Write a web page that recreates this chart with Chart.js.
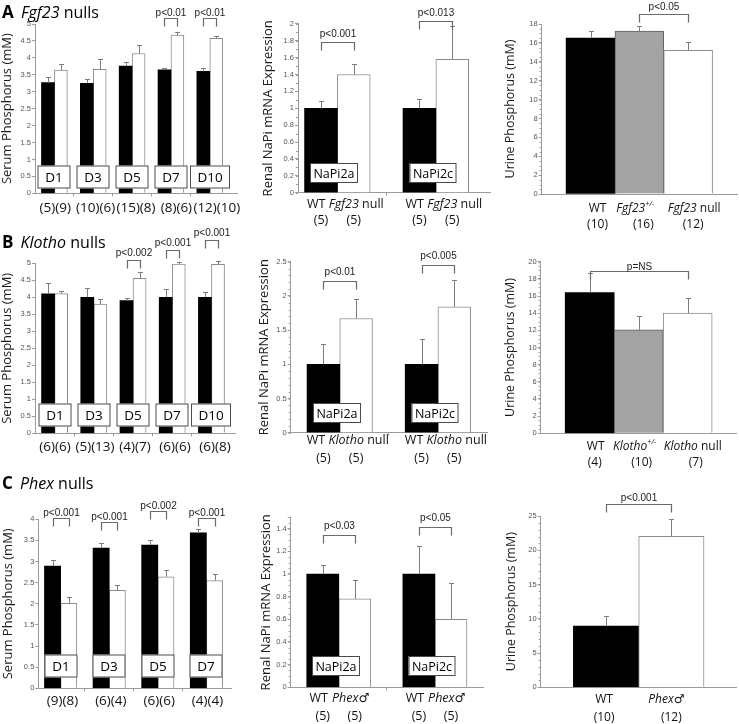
<!DOCTYPE html>
<html>
<head>
<meta charset="utf-8">
<script src="https://cdn.jsdelivr.net/npm/chart.js@4.4.1/dist/chart.umd.min.js"></script>
<style>
body { margin: 0; background: #fff; width: 739px; height: 724px; position: relative; overflow: hidden; font-family: "Open Sans", sans-serif; }
canvas { position: absolute; }
.hd { position: absolute; font-size: 16px; line-height: 16px; color: #000; white-space: nowrap; z-index: 2; }
.hd b { font-weight: 700; font-size: 17px; margin-right: 3px; }
</style>
</head>
<body>
<div class="hd" style="left:2px;top:4px"><b>A</b> <i>Fgf23</i> nulls</div>
<div class="hd" style="left:2px;top:234px"><b>B</b> <i>Klotho</i> nulls</div>
<div class="hd" style="left:2px;top:475px"><b>C</b> <i>Phex</i> nulls</div>
<canvas id="a1"></canvas><canvas id="a2"></canvas><canvas id="a3"></canvas>
<canvas id="b1"></canvas><canvas id="b2"></canvas><canvas id="b3"></canvas>
<canvas id="c1"></canvas><canvas id="c2"></canvas><canvas id="c3"></canvas>
<script>
// ---- datos ----
// A: Fgf23, fosforo serico por dia
const fgfDays = ['D1', 'D3', 'D5', 'D7', 'D10'];
const fgfSerumN = ['(5)(9)', '(10)(6)', '(15)(8)', '(8)(6)', '(12)(10)'];
const fgfSerumWt = [3.27, 3.25, 3.76, 3.65, 3.60];
const fgfSerumWtSe = [0.16, 0.13, 0.11, 0.05, 0.09];
const fgfSerumNull = [3.64, 3.66, 4.13, 4.67, 4.58];
const fgfSerumNullSe = [0.17, 0.31, 0.26, 0.08, 0.07];
const fgfSerumP = ['', '', '', 'p<0.01', 'p<0.01'];

// B: Klotho
const klDays = ['D1', 'D3', 'D5', 'D7', 'D10'];
const klSerumN = ['(6)(6)', '(5)(13)', '(4)(7)', '(6)(6)', '(6)(8)'];
const klSerumWt = [4.10, 4.00, 3.90, 4.00, 4.00];
const klSerumWtSe = [0.33, 0.26, 0.09, 0.23, 0.15];
const klSerumNull = [4.11, 3.80, 4.56, 4.98, 4.97];
const klSerumNullSe = [0.09, 0.14, 0.17, 0.07, 0.09];
const klSerumP = ['', '', 'p<0.002', 'p<0.001', 'p<0.001'];

// C: Phex
const phDays = ['D1', 'D3', 'D5', 'D7'];
const phSerumN = ['(9)(8)', '(6)(4)', '(6)(6)', '(4)(4)'];
const phSerumWt = [2.89, 3.32, 3.39, 3.68];
const phSerumWtSe = [0.14, 0.11, 0.11, 0.09];
const phSerumMut = [2.01, 2.32, 2.64, 2.55];
const phSerumMutSe = [0.14, 0.12, 0.15, 0.16];
const phSerumP = ['p<0.001', 'p<0.001', 'p<0.002', 'p<0.001'];

// expresion renal NaPi
const napiGenes = ['NaPi2a', 'NaPi2c'];
const fgfNapiGroups = ['WT', 'Fgf23 null'];
const fgfNapiN = ['(5)', '(5)'];
const fgfNapiWt = [1.00, 1.00];
const fgfNapiWtSe = [0.09, 0.11];
const fgfNapiNull = [1.40, 1.58];
const fgfNapiNullSe = [0.12, 0.39];
const fgfNapiP = ['p<0.001', 'p<0.013'];

const klNapiGroups = ['WT', 'Klotho null'];
const klNapiN = ['(5)', '(5)'];
const klNapiWt = [1.00, 1.00];
const klNapiWtSe = [0.29, 0.37];
const klNapiNull = [1.67, 1.84];
const klNapiNullSe = [0.29, 0.39];
const klNapiP = ['p<0.01', 'p<0.005'];

const phNapiGroups = ['WT', 'Phex\u2642'];
const phNapiN = ['(5)', '(5)'];
const phNapiWt = [1.00, 1.00];
const phNapiWtSe = [0.08, 0.245];
const phNapiMut = [0.78, 0.60];
const phNapiMutSe = [0.17, 0.32];
const phNapiP = ['p<0.03', 'p<0.05'];

// fosforo urinario
const fgfUrineGroups = ['WT', 'Fgf23+/-', 'Fgf23 null'];
const fgfUrineN = ['(10)', '(16)', '(12)'];
const fgfUrine = [16.50, 17.25, 15.20];
const fgfUrineSe = [0.75, 0.50, 0.85];
const fgfUrineP = 'p<0.05';

const klUrineGroups = ['WT', 'Klotho+/-', 'Klotho null'];
const klUrineN = ['(4)', '(10)', '(7)'];
const klUrine = [16.40, 12.05, 14.00];
const klUrineSe = [2.30, 1.65, 1.75];
const klUrineP = 'p=NS';

const phUrineGroups = ['WT', 'Phex\u2642'];
const phUrineN = ['(10)', '(12)'];
const phUrine = [8.93, 22.05];
const phUrineSe = [1.45, 2.45];
const phUrineP = 'p<0.001';

// ---- estilo ----
const AXIS = '#9b9b9b';
const FONT = '"Open Sans", "DejaVu Sans", sans-serif';
const BLACK = { color: '#000', border: '#000', bw: 0 };
const GREY = { color: '#a3a3a3', border: '#5f5f5f', bw: 1 };
const WHITE = { color: '#fff', border: '#8c8c8c', bw: 1 };

// texto con cursiva para los genes y superindice para +/-
function rich(text) {
    const parts = [];
    const re = /(Fgf23|Klotho|Phex)|(\+\/-)/g;
    let last = 0, m;
    while ((m = re.exec(text))) {
        if (m.index > last) parts.push({ t: text.slice(last, m.index) });
        if (m[1]) parts.push({ t: m[1], it: true });
        else parts.push({ t: m[2], sup: true, it: true });
        last = re.lastIndex;
    }
    if (last < text.length) parts.push({ t: text.slice(last) });
    return parts;
}
function fontFor(p, size) {
    const s = p.sup ? size * 0.62 : size;
    return (p.it ? 'italic ' : '') + s + 'px ' + FONT;
}
function drawRich(ctx, text, cx, cy, size) {
    const parts = rich(text);
    let w = 0;
    parts.forEach(p => { ctx.font = fontFor(p, size); p.w = ctx.measureText(p.t).width; w += p.w; });
    let x = cx - w / 2;
    ctx.textAlign = 'left';
    ctx.textBaseline = 'middle';
    parts.forEach(p => {
        ctx.font = fontFor(p, size);
        ctx.fillText(p.t, x, p.sup ? cy - size * 0.4 : cy);
        x += p.w;
    });
}

// plugin: barras de error, corchetes de p, cajas de etiqueta y textos del eje x
function decoPlugin(cfg) {
    return {
        id: 'deco',
        afterDatasetsDraw(chart) {
            const ctx = chart.ctx, xS = chart.scales.x, yS = chart.scales.y;
            ctx.save();
            if (cfg.minor) {
                ctx.strokeStyle = AXIS;
                ctx.lineWidth = 1;
                ctx.beginPath();
                for (let v = cfg.y.min; v <= cfg.y.max + 1e-9; v += cfg.minor) {
                    const py = Math.round(yS.getPixelForValue(v)) + 0.5;
                    ctx.moveTo(xS.left - 2, py);
                    ctx.lineTo(xS.left, py);
                }
                ctx.stroke();
            }
            // barras de error
            cfg.bars.forEach((b, di) => {
                const meta = chart.getDatasetMeta(di);
                meta.data.forEach((bar, j) => {
                    const top = Math.round(yS.getPixelForValue(b.y[j] + b.se[j])) + 0.5;
                    const x = Math.round(bar.x) + 0.5;
                    ctx.strokeStyle = '#7d7d7d';
                    ctx.lineWidth = 1;
                    ctx.beginPath();
                    ctx.moveTo(x, bar.y);
                    ctx.lineTo(x, top);
                    ctx.moveTo(x - 2.5, top);
                    ctx.lineTo(x + 2.5, top);
                    ctx.stroke();
                });
            });
            // corchetes
            cfg.brackets.forEach(b => {
                const x1 = Math.round(xS.getPixelForValue(b.x1)) + 0.5;
                const x2 = Math.round(xS.getPixelForValue(b.x2)) + 0.5;
                const y = Math.round(yS.getPixelForValue(b.level)) + 0.5;
                ctx.strokeStyle = '#6a6a6a';
                ctx.lineWidth = 1.2;
                ctx.beginPath();
                ctx.moveTo(x1, y + 8);
                ctx.lineTo(x1, y);
                ctx.lineTo(x2, y);
                ctx.lineTo(x2, y + 8);
                ctx.stroke();
                ctx.fillStyle = '#222';
                ctx.font = '10px "Liberation Sans", Arial, sans-serif';
                ctx.textAlign = 'center';
                ctx.textBaseline = 'alphabetic';
                ctx.fillText(b.text, (x1 + x2) / 2, y - cfg.pGap);
            });
            // cajas
            (cfg.boxes || []).forEach(b => {
                ctx.font = cfg.boxFont + 'px ' + FONT;
                const w = Math.round(ctx.measureText(b.text).width + 2 * cfg.boxPad);
                const h = cfg.boxH;
                const cx = Math.round(xS.getPixelForValue(b.x) + (cfg.boxDx || 0));
                const cy = Math.round(yS.bottom - cfg.boxOff);
                ctx.fillStyle = '#fff';
                ctx.fillRect(cx - w / 2, cy - h / 2, w, h);
                ctx.strokeStyle = '#4a4a4a';
                ctx.lineWidth = 1;
                ctx.strokeRect(cx - w / 2 + 0.5, cy - h / 2 + 0.5, w - 1, h - 1);
                ctx.fillStyle = '#000';
                ctx.textAlign = 'center';
                ctx.textBaseline = 'middle';
                ctx.fillText(b.text, cx, cy + 1);
            });
            // textos bajo el eje
            ctx.fillStyle = '#111';
            cfg.labels.forEach(l => {
                drawRich(ctx, l.text, xS.getPixelForValue(l.x) + (l.dx || 0), yS.bottom + l.dy, l.size);
            });
            ctx.restore();
        }
    };
}

function fmt(v) { return String(+v.toFixed(3)); }

function build(cfg) {
    const cv = document.getElementById(cfg.id);
    const [cx, cy, cw, ch] = cfg.rect;
    const [pl, pt, pr, pb] = cfg.plot;
    cv.style.left = cx + 'px';
    cv.style.top = cy + 'px';
    cv.width = cw;
    cv.height = ch;
    cv.style.width = cw + 'px';
    cv.style.height = ch + 'px';
    const padLeft = cfg.titleX - cx - cfg.titleSize * 1.2 / 2;
    const step = cfg.y.step;
    new Chart(cv, {
        type: 'bar',
        data: {
            datasets: cfg.bars.map(b => ({
                data: b.x.map((x, i) => ({ x: x, y: b.y[i] })),
                backgroundColor: b.color,
                borderColor: b.border,
                borderWidth: b.bw,
                grouped: false,
                barPercentage: 1,
                categoryPercentage: 1
            }))
        },
        options: {
            responsive: false,
            animation: false,
            devicePixelRatio: 1,
            layout: { padding: { left: padLeft, top: pt - cy, right: cx + cw - pr, bottom: 0 } },
            plugins: { legend: { display: false }, tooltip: { enabled: false } },
            scales: {
                x: {
                    type: 'linear',
                    min: cfg.x.min,
                    max: cfg.x.max,
                    offset: false,
                    afterBuildTicks: s => { s.ticks = cfg.x.ticks.map(v => ({ value: v })); },
                    afterFit: s => { s.height = cy + ch - pb; },
                    ticks: { display: false },
                    grid: { offset: false, drawOnChartArea: false, tickLength: 3, color: AXIS, tickColor: cfg.x.tickColor || AXIS },
                    border: { color: AXIS }
                },
                y: {
                    min: cfg.y.min,
                    max: cfg.y.max,
                    afterFit: s => { s.width = pl - cx - padLeft; },
                    ticks: {
                        stepSize: step,
                        font: { size: 7.5, family: 'Liberation Sans' },
                        color: '#555',
                        padding: 1,
                        callback: v => (Math.abs(v / step - Math.round(v / step)) < 1e-6 ? fmt(v) : '')
                    },
                    grid: { drawOnChartArea: false, tickLength: 3, color: AXIS },
                    border: { color: AXIS },
                    title: { display: true, text: cfg.title, font: { size: cfg.titleSize, family: 'Open Sans' }, color: '#1a1a1a', padding: 0 }
                }
            }
        },
        plugins: [decoPlugin(cfg)]
    });
}

// ---- ayudantes de disposicion ----
function pairBars(wt, wtSe, mu, muSe) {
    return [
        Object.assign({ x: wt.map((_, i) => 3 * i + 1), y: wt, se: wtSe }, BLACK),
        Object.assign({ x: mu.map((_, i) => 3 * i + 2), y: mu, se: muSe }, WHITE)
    ];
}
function pairBrackets(p, levels) {
    return p.map((t, i) => t ? { x1: 3 * i + 1, x2: 3 * i + 2, level: levels[i], text: t } : null).filter(Boolean);
}
function serum(id, rect, plot, titleX, yMax, xr, days, n, wt, wtSe, mu, muSe, p, levels, boxOff, labDy, pGap) {
    // los (n) van centrados en franjas iguales del eje
    const slot = (xr[1] - xr[0]) / days.length;
    return {
        id, rect, plot, titleX, title: 'Serum Phosphorus (mM)', titleSize: 13,
        y: { min: 0, max: yMax, step: 0.5 },
        x: { min: xr[0], max: xr[1], ticks: days.slice(1).map((_, i) => 3 * i + 3) },
        bars: pairBars(wt, wtSe, mu, muSe),
        brackets: pairBrackets(p, levels), pGap,
        boxes: days.map((d, i) => ({ x: 3 * i + 1.5, text: d })),
        boxOff, boxH: 23, boxPad: 7.5, boxFont: 13.5,
        labels: n.map((t, i) => ({ x: xr[0] + slot * (i + 0.5), text: t, dy: labDy, size: 13.5 }))
    };
}
function napi(id, rect, plot, titleX, y, xr, groups, n, wt, wtSe, mu, muSe, p, levels, joined, dy1, dy2, pGap, boxOff) {
    let labels = [];
    napiGenes.forEach((g, i) => {
        if (joined) labels.push({ x: 3 * i + 1.5, dx: 8, text: groups.join(' '), dy: dy1, size: 12.5 });
        else groups.forEach((t, k) => labels.push({ x: 3 * i + 1 + k, dx: -4, text: t, dy: dy1, size: 12.5 }));
        n.forEach((t, k) => labels.push({ x: 3 * i + 1 + k, text: t, dy: dy2, size: 12.5 }));
    });
    return {
        id, rect, plot, titleX, title: 'Renal NaPi mRNA Expression', titleSize: 13,
        y, minor: y.minor,
        x: { min: xr[0], max: xr[1], ticks: [3] },
        bars: pairBars(wt, wtSe, mu, muSe),
        brackets: pairBrackets(p, levels), pGap,
        boxes: napiGenes.map((g, i) => ({ x: 3 * i + 1.5, text: g })),
        boxDx: -3, boxOff, boxH: 20, boxPad: 3.5, boxFont: 12.5,
        labels
    };
}
function urine(id, rect, plot, titleX, y, xMax, groups, n, vals, se, fills, p, from, to, level, dy1, dy2, pGap, gdx, ndx) {
    const labels = [];
    groups.forEach((g, i) => {
        labels.push({ x: i + 1, dx: gdx[i], text: g, dy: dy1, size: 12 });
        labels.push({ x: i + 1, dx: ndx[i], text: n[i], dy: dy2, size: 12 });
    });
    return {
        id, rect, plot, titleX, title: 'Urine Phosphorus (mM)', titleSize: 12.5,
        y, minor: y.minor,
        x: { min: 0, max: xMax, ticks: [0], tickColor: 'rgba(0,0,0,0)' },
        bars: [{
            x: vals.map((_, i) => i + 1), y: vals, se,
            color: fills.map(f => f.color), border: fills.map(f => f.border), bw: fills.map(f => f.bw)
        }],
        brackets: [{ x1: from, x2: to, level, text: p }], pGap,
        labels
    };
}

const panels = [
    serum('a1', [0, 0, 248, 240], [35, 24, 237, 193.3], 7.5, 5, [0, 15.6],
        fgfDays, fgfSerumN, fgfSerumWt, fgfSerumWtSe, fgfSerumNull, fgfSerumNullSe, fgfSerumP,
        [0, 0, 0, 5.18, 5.18], 16.8, 14.7, 3),
    serum('b1', [0, 222, 248, 255], [35, 263.3, 235, 433.3], 7.5, 5, [0, 15.3],
        klDays, klSerumN, klSerumWt, klSerumWtSe, klSerumNull, klSerumNullSe, klSerumP,
        [0, 0, 5.1, 5.39, 5.69], 18.3, 14, 4.5),
    serum('c1', [0, 470, 248, 254], [38.3, 519.3, 231.7, 688.3], 8.3, 4, [0.12, 12.06],
        phDays, phSerumN, phSerumWt, phSerumWtSe, phSerumMut, phSerumMutSe, phSerumP,
        [4.04, 3.93, 4.2, 4.04], 22.3, 12.7, 3),
    napi('a2', [250, 0, 245, 240], [298, 23.9, 490, 192.7], 268, { min: 0, max: 2, step: 0.2, minor: 0.1 }, [0.3, 6.15],
        fgfNapiGroups, fgfNapiN, fgfNapiWt, fgfNapiWtSe, fgfNapiNull, fgfNapiNullSe, fgfNapiP,
        [1.79, 2.03], true, 11.3, 27.3, 6, 19.4),
    napi('b2', [245, 222, 250, 255], [290.7, 261.7, 487, 432.7], 264.7, { min: 0, max: 2.5, step: 0.5, minor: 0.1 }, [0, 6],
        klNapiGroups, klNapiN, klNapiWt, klNapiWtSe, klNapiNull, klNapiNullSe, klNapiP,
        [2.22, 2.45], true, 8, 25.6, 6.5, 19.4),
    napi('c2', [245, 470, 250, 254], [290.7, 517.3, 483, 687.3], 265.8, { min: 0, max: 1.5, step: 0.2, minor: 0.05 }, [0, 6],
        phNapiGroups, phNapiN, phNapiWt, phNapiWtSe, phNapiMut, phNapiMutSe, phNapiP,
        [1.344, 1.41], false, 11, 28.7, 6.5, 21.3),
    urine('a3', [495, 0, 244, 240], [541.7, 24, 737, 194], 510, { min: 0, max: 18, step: 2, minor: 0.5 }, 4,
        fgfUrineGroups, fgfUrineN, fgfUrine, fgfUrineSe, [BLACK, GREY, WHITE], fgfUrineP, 2, 3, 19.07, 15, 31, 4.5,
        [7, -4, 6], [7, 4, 5]),
    urine('b3', [495, 222, 244, 255], [540.7, 261.7, 736.7, 433.3], 510.5, { min: 0, max: 20, step: 2, minor: 0.5 }, 4,
        klUrineGroups, klUrineN, klUrine, klUrineSe, [BLACK, GREY, WHITE], klUrineP, 1, 3, 18.95, 13.4, 29.4, 2,
        [6, -4, 5], [5, 3, 8]),
    urine('c3', [495, 470, 244, 254], [540.7, 516, 736.7, 687.3], 511, { min: 0, max: 25, step: 5, minor: 1 }, 3,
        phUrineGroups, phUrineN, phUrine, phUrineSe, [BLACK, WHITE], phUrineP, 1, 2, 26.76, 12.7, 30, 4,
        [-2, -5], [-2, 0])
];

panels.forEach(build);
</script>
</body>
</html>
